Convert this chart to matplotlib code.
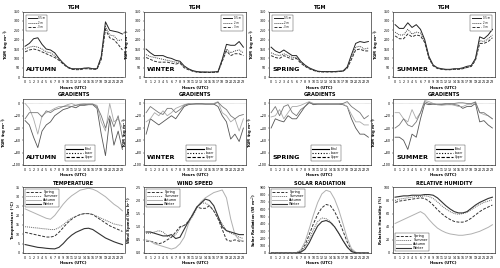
import numpy as np
import matplotlib.pyplot as plt

hours = list(range(24))
seasons = ["AUTUMN", "WINTER", "SPRING", "SUMMER"]

# -------- TGM at three heights (ng m-3) --------
tgm_05 = {
    "AUTUMN": [165, 180, 205, 210, 175, 150, 145, 130, 100, 75, 55, 45, 45, 45, 48, 50, 45, 45, 110, 295, 250, 245, 240, 230],
    "WINTER": [150, 130, 115, 115, 115, 105, 100, 90, 85, 60, 45, 35, 30, 28, 28, 27, 28, 30, 95, 175, 170, 170, 190, 160],
    "SPRING": [160, 140, 130, 145, 130, 115, 115, 85, 65, 50, 40, 32, 30, 30, 30, 30, 32, 33, 55, 120, 180, 190, 185, 190],
    "SUMMER": [280, 260, 260, 290, 265, 280, 255, 200, 110, 65, 50, 45, 42, 42, 45, 45, 50, 58, 62, 100, 215, 205, 225, 255],
}
tgm_2 = {
    "AUTUMN": [150, 160, 165, 160, 150, 135, 130, 115, 95, 75, 55, 45, 42, 42, 48, 45, 45, 45, 100, 270, 225, 220, 195, 200],
    "WINTER": [120, 110, 105, 100, 95, 90, 85, 80, 80, 55, 42, 33, 28, 26, 26, 26, 27, 28, 90, 150, 130, 140, 145, 130],
    "SPRING": [130, 120, 115, 125, 115, 105, 105, 80, 60, 48, 38, 30, 29, 29, 29, 29, 30, 32, 50, 105, 160, 165, 150, 155],
    "SUMMER": [240, 225, 225, 255, 230, 240, 235, 190, 105, 62, 48, 43, 40, 40, 43, 43, 46, 52, 58, 95, 195, 190, 205, 225],
}
tgm_3 = {
    "AUTUMN": [135, 145, 150, 145, 135, 125, 115, 105, 90, 70, 52, 42, 40, 40, 45, 45, 42, 42, 95, 255, 210, 200, 175, 145],
    "WINTER": [105, 95, 85, 80, 80, 80, 75, 70, 75, 50, 40, 32, 27, 25, 25, 25, 26, 27, 85, 140, 115, 125, 125, 115],
    "SPRING": [115, 105, 100, 115, 105, 95, 100, 75, 58, 45, 36, 30, 28, 28, 28, 28, 30, 32, 48, 95, 145, 150, 140, 140],
    "SUMMER": [220, 205, 205, 230, 215, 225, 220, 185, 100, 60, 46, 42, 40, 40, 42, 42, 45, 52, 57, 90, 180, 180, 190, 210],
}
tgm_legend_loc = {"AUTUMN": "upper left", "WINTER": "upper right", "SPRING": "upper left", "SUMMER": "upper right"}

# -------- gradients --------
grad_total = {
    "AUTUMN": [-28, -35, -55, -72, -45, -35, -30, -20, -15, -10, -8, -5, -7, -3, -3, -2, -2, -8, -50, -85, -25, -68, -45, -75],
    "WINTER": [-50, -25, -30, -35, -30, -25, -20, -25, -15, -5, -2, -1, -1, -1, -1, -1, -1, -5, -20, -30, -58, -50, -62, -40],
    "SPRING": [-40, -25, -28, -30, -20, -25, -25, -15, -5, 2, -2, -1, -1, -1, -1, -1, -1, -2, -5, -25, -40, -50, -50, -55],
    "SUMMER": [-55, -55, -60, -75, -50, -55, -25, 0, -2, -1, -2, -2, -2, -2, -2, -3, -8, -5, -5, 0, -30, -28, -35, -40],
}
grad_lower = {
    "AUTUMN": [0, -8, -25, -50, -20, -15, -12, -8, -5, -5, -2, 0, -3, -1, 0, -1, -1, -3, -30, -45, 0, -30, -25, -40],
    "WINTER": [-30, -25, -15, -20, -12, -20, -15, -8, -5, -2, 0, -1, 0, 0, 0, 0, 0, 3, -15, -20, -30, -25, -45, -25],
    "SPRING": [-22, -20, -10, -25, -15, -5, -5, -3, 0, 3, 0, 0, 0, 0, 0, 0, 0, -1, -5, -18, -30, -30, -35, -35],
    "SUMMER": [-15, -15, -25, -30, -10, -25, -15, 5, 3, 0, -2, -3, -2, -1, -3, -5, -5, -2, -2, 3, -15, -18, -20, -25],
}
grad_upper = {
    "AUTUMN": [-25, -15, -15, -15, -22, -12, -15, -10, -8, -5, -4, -5, -3, -2, -2, -1, -1, -5, -20, -40, -20, -38, -20, -55],
    "WINTER": [-15, -5, -10, -15, -18, -8, -8, -15, -10, -3, -1, -1, 0, 0, -1, -1, -1, 2, -5, -10, -20, -25, -20, -18],
    "SPRING": [-15, -5, -20, -5, -2, -15, -20, -10, -5, 1, -1, -1, -1, -1, -1, -1, -1, 0, 3, -5, -10, -15, -25, -20],
    "SUMMER": [-40, -35, -25, -35, -38, -30, -15, 3, 0, -1, -1, -1, 0, 0, 0, 1, 1, 0, 0, 2, -15, -15, -20, -25],
}

# -------- meteorology --------
met_seasons = ["Spring", "Summer", "Autumn", "Winter"]
temperature = {
    "Spring": [11, 10.5, 10, 9.5, 9, 8.5, 8.5, 9, 11, 13.5, 16, 18, 19.5, 20.5, 21, 21, 20.5, 19, 17.5, 16, 14.5, 13.5, 12.5, 11.5],
    "Summer": [14, 13.8, 13.5, 13.3, 13, 12.8, 12.5, 12.5, 13.5, 15, 17, 18.5, 19.5, 20.5, 21, 21, 20.5, 19.5, 18.5, 17.5, 16.5, 15.5, 15, 14.5],
    "Autumn": [23.5, 22.5, 21.5, 20.5, 19.5, 18.5, 18, 20, 23, 26, 28.5, 30.5, 32, 33.5, 34, 34.5, 34, 33, 31.5, 30, 28, 26, 24.5, 22.5],
    "Winter": [4.5, 4, 3.5, 3, 2.8, 2.5, 2.3, 2.2, 3, 5, 7.5, 9.5, 11, 12, 13, 13.2, 12.5, 11, 9.5, 8, 7, 6, 5.2, 4.5],
}
wind = {
    "Spring": [0.45, 0.45, 0.4, 0.35, 0.4, 0.5, 0.6, 0.8, 1.0, 1.05, 1.2, 1.45, 1.75, 1.7, 1.7, 1.8, 1.6, 1.3, 0.9, 0.5, 0.45, 0.5, 0.45, 0.45],
    "Summer": [0.75, 0.75, 0.8, 0.85, 0.8, 0.65, 0.6, 0.7, 0.95, 1.05, 1.15, 1.4, 1.7, 1.9, 1.9, 1.8, 1.6, 1.35, 1.1, 0.85, 0.75, 0.7, 0.6, 0.55],
    "Autumn": [0.5, 0.45, 0.35, 0.3, 0.25, 0.2, 0.15, 0.2, 0.35, 0.6, 1.1, 1.5, 1.75, 1.95, 2.1, 2.2, 2.3, 2.35, 2.4, 2.1, 1.3, 0.7, 0.5, 0.45],
    "Winter": [0.8, 0.8, 0.75, 0.7, 0.65, 0.65, 0.7, 0.55, 0.6, 0.9, 1.2, 1.45, 1.75, 1.9, 2.05, 2.0, 1.8, 1.4, 1.0, 0.85, 0.8, 0.75, 0.7, 0.7],
}
solar = {
    "Spring": [0, 0, 0, 0, 0, 0, 5, 30, 110, 250, 400, 530, 620, 665, 650, 570, 450, 300, 150, 40, 5, 0, 0, 0],
    "Summer": [0, 0, 0, 0, 0, 0, 3, 20, 80, 190, 320, 430, 480, 470, 430, 360, 270, 170, 80, 20, 3, 0, 0, 0],
    "Autumn": [0, 0, 0, 0, 0, 0, 5, 40, 150, 330, 520, 690, 810, 860, 840, 740, 590, 400, 200, 60, 10, 0, 0, 0],
    "Winter": [0, 0, 0, 0, 0, 0, 0, 10, 50, 140, 260, 370, 430, 445, 420, 360, 270, 170, 80, 20, 2, 0, 0, 0],
}
humidity = {
    "Spring": [77, 79, 80, 81, 82, 83, 84, 83, 79, 73, 66, 60, 55, 51, 48, 47, 47, 49, 53, 58, 63, 67, 70, 73],
    "Summer": [80, 82, 83, 84, 85, 86, 86, 87, 86, 83, 78, 72, 67, 63, 60, 59, 60, 62, 66, 70, 74, 77, 79, 81],
    "Autumn": [45, 48, 51, 54, 57, 60, 63, 59, 51, 44, 38, 34, 31, 29, 28, 27, 27, 28, 29, 31, 33, 36, 39, 43],
    "Winter": [85, 86, 87, 87, 88, 88, 88, 89, 89, 88, 84, 78, 72, 67, 63, 61, 61, 63, 68, 73, 77, 80, 83, 85],
}

plt.rcParams["font.family"] = "DejaVu Sans"
TICK_FS = 2.3
LAB_FS = 2.8
TITLE_FS = 3.6

fig = plt.figure(figsize=(5.0, 2.68), dpi=100)
lefts = [0.046, 0.288, 0.538, 0.786]
W = 0.203
bottoms = [0.712, 0.385, 0.056]
H = 0.245


def style_axes(ax, ylabel, title):
    ax.set_xlim(-0.5, 23.5)
    ax.set_xticks(hours)
    ax.tick_params(labelsize=TICK_FS, length=1, width=0.3, pad=1)
    for s in ax.spines.values():
        s.set_linewidth(0.4)
    ax.set_xlabel("Hours (UTC)", fontsize=LAB_FS, fontweight="bold", labelpad=1)
    ax.set_ylabel(ylabel, fontsize=LAB_FS, fontweight="bold", labelpad=1)
    ax.set_title(title, fontsize=TITLE_FS, fontweight="bold", pad=2)


def small_legend(ax, *args, **kw):
    leg = ax.legend(*args, frameon=True, fancybox=False, edgecolor="black", **kw)
    leg.get_frame().set_linewidth(0.3)
    return leg


for i, s in enumerate(seasons):
    # TGM row
    ax = fig.add_axes([lefts[i], bottoms[0], W, H])
    ax.plot(hours, tgm_05[s], color="#222222", lw=0.7, ls="-", label="0.5 m")
    ax.plot(hours, tgm_2[s], color="#444444", lw=0.7, ls=(0, (1, 1)), label="2 m")
    ax.plot(hours, tgm_3[s], color="#333333", lw=0.7, ls=(0, (3, 1.5)), label="3 m")
    ax.set_ylim(0, 350)
    ax.set_yticks(range(0, 351, 50))
    style_axes(ax, "TGM (ng m$^{-3}$)", "TGM")
    ax.text(0.03, 0.09, s, transform=ax.transAxes, fontsize=4.6, fontweight="bold")
    small_legend(ax, loc=tgm_legend_loc[s], fontsize=1.8, handlelength=3.5,
                 borderpad=0.7, labelspacing=0.15, borderaxespad=1.2)

    # gradients row
    ax = fig.add_axes([lefts[i], bottoms[1], W, H])
    ax.axhline(0, color="#bbbbbb", lw=0.4, ls=(0, (1, 1)))
    ax.plot(hours, grad_total[s], color="#555555", lw=0.6, ls="-", label="Total")
    ax.plot(hours, grad_lower[s], color="#aaaaaa", lw=0.6, ls="-", label="Lower")
    ax.plot(hours, grad_upper[s], color="#777777", lw=0.6, ls="-", label="Upper")
    ax.set_ylim(-100, 7)
    ax.set_yticks(range(-100, 1, 20))
    style_axes(ax, "TGM (ng m$^{-3}$)", "GRADIENTS")
    ax.text(0.03, 0.09, s, transform=ax.transAxes, fontsize=4.6, fontweight="bold")
    hl = [plt.Line2D([], [], color="black", lw=0.8, ls="-"),
          plt.Line2D([], [], color="black", lw=0.8, ls=(0, (1, 1.5))),
          plt.Line2D([], [], color="black", lw=0.8, ls=(0, (3, 1.5)))]
    small_legend(ax, hl, ["Total", "Lower", "Upper"], loc="lower center",
                 bbox_to_anchor=(0.56, 0.04), fontsize=2.0, handlelength=6,
                 borderpad=0.5, labelspacing=0.1)

# meteorology row
met_styles = {
    "Spring": dict(color="#333333", ls=(0, (3, 1.5)), lw=0.7),
    "Summer": dict(color="#666666", ls=(0, (1, 1)), lw=0.7),
    "Autumn": dict(color="#b0b0b0", ls="-", lw=0.7),
    "Winter": dict(color="#333333", ls="-", lw=0.8),
}
met_panels = [
    (temperature, "TEMPERATURE", "Temperature (°C)", (0, 35), np.arange(0, 36, 5), "upper left"),
    (wind, "WIND SPEED", "Wind Speed (km h$^{-1}$)", (0, 2.5), np.arange(0, 2.51, 0.5), "upper left"),
    (solar, "SOLAR RADIATION", "Solar Radiation (W m$^{-2}$)", (0, 900), np.arange(0, 901, 100), "upper left"),
    (humidity, "RELATIVE HUMIDITY", "Relative Humidity (%)", (0, 100), np.arange(0, 101, 20), "lower left"),
]
for i, (data, title, ylab, ylim, yt, loc) in enumerate(met_panels):
    ax = fig.add_axes([lefts[i], bottoms[2], W, H])
    for m in met_seasons:
        ax.plot(hours, data[m], label=m, **met_styles[m])
    ax.set_ylim(*ylim)
    ax.set_yticks(yt)
    style_axes(ax, ylab, title)
    small_legend(ax, loc=loc, fontsize=2.4, handlelength=4.5,
                 borderpad=0.3, labelspacing=0.05, handletextpad=0.8)

fig.savefig("out.png", dpi=100)
